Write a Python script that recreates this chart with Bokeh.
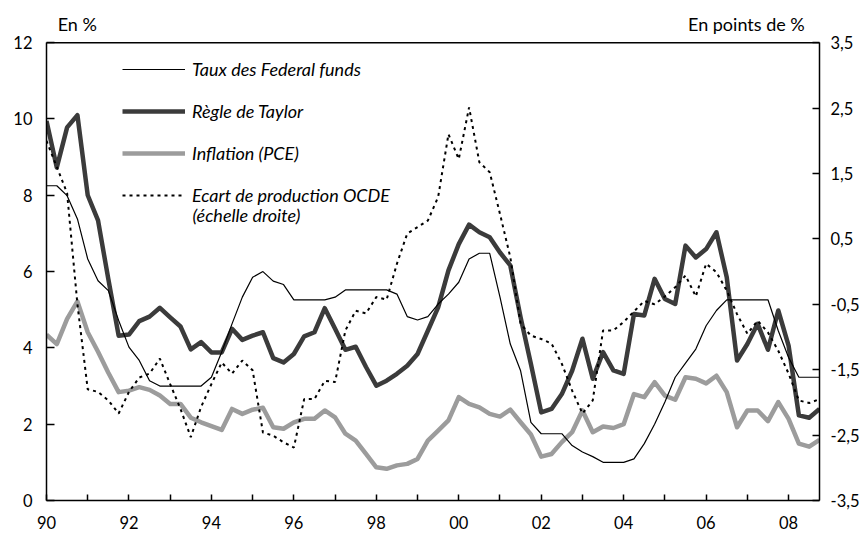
from bokeh.plotting import figure
from bokeh.models import Range1d, LinearAxis, FixedTicker, Legend, LegendItem, Label, Span
from bokeh.embed import file_html
from bokeh.resources import INLINE

start_year = 1990
fed_funds = [8.25, 8.25, 7.99, 7.38,
             6.33, 5.76, 5.5, 4.72,
             4.02, 3.67, 3.14, 3.0,
             3.0, 3.0, 3.0, 3.0,
             3.23, 3.89, 4.63, 5.33,
             5.85, 6.0, 5.75, 5.66,
             5.26, 5.26, 5.26, 5.26,
             5.33, 5.52, 5.52, 5.52,
             5.52, 5.52, 5.41, 4.82,
             4.73, 4.82, 5.15, 5.41,
             5.72, 6.33, 6.48, 6.48,
             5.33, 4.1, 3.4, 2.05,
             1.75, 1.75, 1.75, 1.44,
             1.27, 1.15, 1.0, 1.0,
             1.0, 1.09, 1.49, 2.0,
             2.58, 3.23, 3.6, 3.97,
             4.58, 4.98, 5.26, 5.26,
             5.26, 5.26, 5.26, 4.45,
             3.75, 3.23, 3.23, 3.23]
taylor = [9.95, 8.73, 9.78, 10.1,
          8.0, 7.34, 5.8, 4.32,
          4.35, 4.7, 4.82, 5.05,
          4.8, 4.56, 3.96, 4.15,
          3.88, 3.88, 4.5, 4.21,
          4.32, 4.41, 3.73, 3.62,
          3.84, 4.3, 4.41, 5.04,
          4.5, 3.95, 4.03, 3.5,
          3.01, 3.14, 3.32, 3.53,
          3.84, 4.45, 5.06, 6.03,
          6.72, 7.23, 7.03, 6.9,
          6.5, 6.16, 4.8, 3.58,
          2.31, 2.4, 2.79, 3.4,
          4.24, 3.19, 3.89, 3.41,
          3.32, 4.89, 4.85, 5.81,
          5.28, 5.15, 6.68, 6.37,
          6.59, 7.03, 5.85, 3.67,
          4.1, 4.63, 3.95, 4.98,
          4.06, 2.23, 2.17, 2.4]
inflation = [4.35, 4.1, 4.76, 5.22,
             4.41, 3.9, 3.35, 2.84,
             2.88, 2.97, 2.9, 2.75,
             2.53, 2.53, 2.17, 2.05,
             1.95, 1.85, 2.4, 2.27,
             2.38, 2.43, 1.92, 1.88,
             2.05, 2.14, 2.14, 2.36,
             2.18, 1.75, 1.57, 1.22,
             0.87, 0.83, 0.92, 0.96,
             1.09, 1.57, 1.83, 2.1,
             2.71, 2.53, 2.44, 2.27,
             2.2, 2.38, 2.05, 1.73,
             1.15, 1.22, 1.53, 1.79,
             2.36, 1.79, 1.94, 1.9,
             2.0, 2.79, 2.71, 3.1,
             2.75, 2.64, 3.23, 3.19,
             3.07, 3.27, 2.84, 1.92,
             2.36, 2.36, 2.08, 2.58,
             2.14, 1.49, 1.41, 1.59]
output_gap = [2.0, 1.6, 1.2, -0.5,
              -1.8, -1.84, -1.97, -2.17,
              -1.84, -1.62, -1.56, -1.33,
              -1.72, -2.1, -2.53, -2.07,
              -1.72, -1.39, -1.56, -1.36,
              -1.51, -2.46, -2.51, -2.61,
              -2.69, -1.95, -1.95, -1.67,
              -1.69, -0.9, -0.6, -0.64,
              -0.39, -0.43, 0.12, 0.58,
              0.68, 0.78, 1.14, 2.1,
              1.72, 2.51, 1.67, 1.52,
              0.88, 0.22, -0.8, -0.98,
              -1.03, -1.1, -1.41, -1.82,
              -2.17, -1.97, -0.9, -0.9,
              -0.77, -0.61, -0.45, -0.5,
              -0.38, -0.24, -0.06, -0.38,
              0.12, -0.01, -0.29, -0.65,
              -0.95, -0.75, -0.93, -1.21,
              -1.56, -1.97, -2.01, -1.95]

years = list(range(1990, 2009))
x_labels = {y: (f"{y % 100:02d}" if y % 2 == 0 else "") for y in years}
left_ticks = [0, 2, 4, 6, 8, 10, 12]
right_ticks = [-3.5, -2.5, -1.5, -0.5, 0.5, 1.5, 2.5, 3.5]
right_labels = {t: f"{t:.1f}".replace(".", ",") for t in right_ticks}

labels = ["Taux des Federal funds", "Règle de Taylor", "Inflation (PCE)",
          "Ecart de production OCDE"]
second_line = "(échelle droite)"
left_unit = "En %"
right_unit = "En points de %"

t = [start_year + i / 4 for i in range(len(taylor))]

FONT = "Lato"
TEXT_SIZE = "18px"

# left scale 0..12 and right scale -3.5..3.5 share the axis box; the frame is
# extended upward (to 13 on the left scale) so that the unit captions fit inside it
L_MAX = 13.0
R_MAX = -3.5 + L_MAX * 7.0 / 12.0

p = figure(width=864, height=536, x_range=Range1d(1990, 2008.75), y_range=Range1d(0, L_MAX),
           output_backend="svg", toolbar_location=None,
           min_border_left=46, min_border_right=45, min_border_top=4, min_border_bottom=36)
p.extra_y_ranges = {"right": Range1d(-3.5, R_MAX)}
p.add_layout(LinearAxis(y_range_name="right"), "right")

p.xgrid.visible = False
p.ygrid.visible = False
p.outline_line_color = None
p.background_fill_color = "white"
p.border_fill_color = "white"

for ax in p.axis:
    ax.axis_line_color = "black"
    ax.axis_line_width = 1.5
    ax.major_tick_line_color = "black"
    ax.major_tick_line_width = 1.5
    ax.major_tick_out = 0
    ax.minor_tick_line_color = None
    ax.major_label_text_font = FONT
    ax.major_label_text_font_size = "16.5px"
    ax.major_label_text_color = "black"

xa = p.xaxis[0]
xa.ticker = FixedTicker(ticks=years)
xa.major_label_overrides = x_labels
xa.major_tick_in = 6
xa.major_label_standoff = 15

ya = p.yaxis[0]
ya.ticker = FixedTicker(ticks=left_ticks)
ya.bounds = (0, 12)
ya.major_tick_in = 8
ya.major_label_standoff = 14

ra = p.yaxis[1]
ra.ticker = FixedTicker(ticks=right_ticks)
ra.bounds = (-3.5, 3.5)
ra.major_label_overrides = right_labels
ra.major_tick_in = 7
ra.major_label_standoff = 11

# top border of the chart box
p.add_layout(Span(location=12, dimension="width", line_color="black", line_width=1.5))

r_infl = p.line(t, inflation, line_color="#9c9c9c", line_width=4.5, line_join="round")
r_taylor = p.line(t, taylor, line_color="#3b3b3b", line_width=4.5, line_join="round")
r_fed = p.line(t, fed_funds, line_color="black", line_width=1.2)
r_gap = p.line(t, output_gap, line_color="black", line_width=2, line_dash="3 4",
               y_range_name="right")

legend = Legend(items=[LegendItem(label=labels[0], renderers=[r_fed]),
                       LegendItem(label=labels[1], renderers=[r_taylor]),
                       LegendItem(label=labels[2], renderers=[r_infl]),
                       LegendItem(label=labels[3], renderers=[r_gap])],
                location=(76, 294), padding=0, margin=0, spacing=20,
                glyph_width=63, glyph_height=20, label_height=20, label_standoff=7,
                label_text_font=FONT, label_text_font_size=TEXT_SIZE,
                label_text_font_style="italic", label_text_color="black",
                border_line_color=None, background_fill_alpha=0)
p.add_layout(legend)

p.add_layout(Label(x=1993.54, y=7.47, text=second_line, text_font=FONT,
                   text_font_size=TEXT_SIZE, text_font_style="italic",
                   text_baseline="middle", text_color="black"))
p.add_layout(Label(x=1990.27, y=12.5, text=left_unit, text_font=FONT,
                   text_font_size=TEXT_SIZE, text_baseline="middle", text_color="black"))
p.add_layout(Label(x=2005.56, y=12.5, text=right_unit, text_font=FONT,
                   text_font_size=TEXT_SIZE, text_baseline="middle", text_color="black"))

open("out.html", "w").write(file_html(p, INLINE))
